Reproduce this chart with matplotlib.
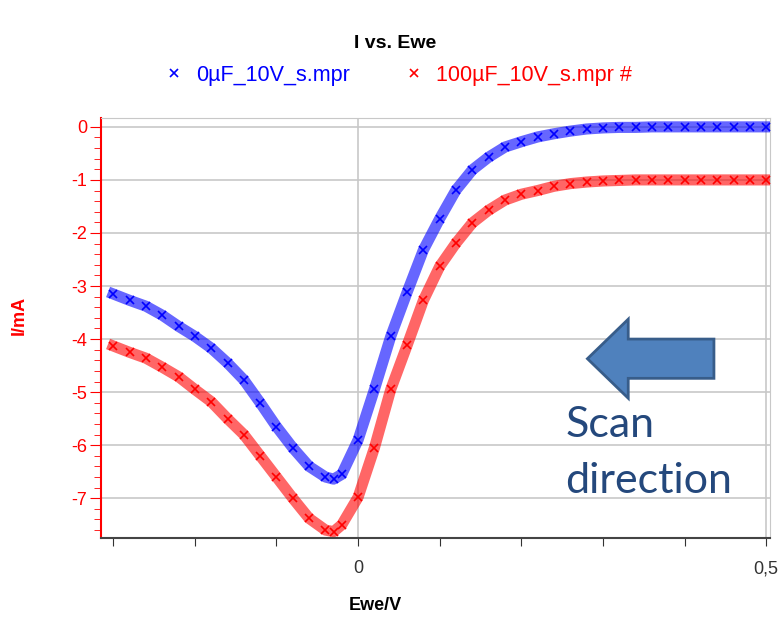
import numpy as np
import matplotlib.pyplot as plt
from matplotlib.patches import FancyArrow

plt.rcParams['font.family'] = ['Liberation Sans', 'DejaVu Sans']
plt.rcParams['axes.unicode_minus'] = False

# potential (V) and current (mA)
ewe = [-0.30, -0.28, -0.26, -0.24, -0.22, -0.20, -0.18, -0.16, -0.14, -0.12,
       -0.10, -0.08, -0.06, -0.04, -0.03, -0.02, 0.00, 0.02, 0.04, 0.06,
       0.08, 0.10, 0.12, 0.14, 0.16, 0.18, 0.20, 0.22, 0.24, 0.26,
       0.28, 0.30, 0.32, 0.34, 0.36, 0.38, 0.40, 0.42, 0.44, 0.46,
       0.48, 0.50]
i_0uF = [-3.15, -3.27, -3.38, -3.55, -3.76, -3.95, -4.17, -4.45, -4.77, -5.20,
         -5.65, -6.05, -6.40, -6.60, -6.64, -6.55, -5.90, -4.95, -3.95, -3.12,
         -2.32, -1.73, -1.19, -0.81, -0.57, -0.38, -0.28, -0.19, -0.13, -0.08,
         -0.04, -0.02, -0.01, -0.01, 0.00, 0.00, 0.00, 0.00, 0.00, 0.00,
         0.00, 0.00]
i_100uF = [-4.13, -4.25, -4.36, -4.53, -4.71, -4.95, -5.18, -5.50, -5.80, -6.20,
           -6.60, -7.00, -7.38, -7.60, -7.63, -7.50, -6.98, -6.05, -4.95, -4.12,
           -3.27, -2.63, -2.19, -1.81, -1.57, -1.38, -1.27, -1.20, -1.12, -1.07,
           -1.04, -1.02, -1.01, -1.00, -1.00, -1.00, -1.00, -1.00, -1.00, -1.00,
           -1.00, -1.00]

fig = plt.figure(figsize=(7.8, 6.17), dpi=100)
ax = fig.add_axes([0.1295, 0.128, 0.858, 0.681])

ax.plot(ewe, i_0uF, '-', color='blue', lw=8, alpha=0.6, zorder=3)
ax.plot(ewe, i_0uF, 'x', color='blue', ms=6, mew=1.2, label='0µF_10V_s.mpr', zorder=4)
ax.plot(ewe, i_100uF, '-', color='red', lw=8, alpha=0.6, zorder=3)
ax.plot(ewe, i_100uF, 'x', color='red', ms=6, mew=1.2, label='100µF_10V_s.mpr #', zorder=4)

ax.set_xlim(-0.315, 0.505)
ax.set_ylim(-7.75, 0.17)

# grid
for yy in range(-7, 1):
    ax.axhline(yy, color='#c8c8c8', lw=1.2, zorder=1)
for xx in [0, 0.5]:
    ax.axvline(xx, color='#c8c8c8', lw=1.2, zorder=1)

xt = np.round(np.arange(-0.3, 0.51, 0.1), 2)
ax.set_xticks(xt)
ax.set_xticklabels(['0' if t == 0 else ('0,5' if t == 0.5 else '') for t in xt])
ax.set_yticks(range(-7, 1))
ax.set_yticks(np.arange(-7.6, 0.1, 0.2), minor=True)
ax.tick_params(axis='x', colors='#333333', labelsize=13, length=6, direction='out', pad=10)
ax.tick_params(axis='y', colors='red', labelsize=13, length=8, direction='out', pad=2)
ax.tick_params(axis='y', which='minor', colors='red', length=5)

ax.spines['left'].set_color('red')
ax.spines['left'].set_linewidth(1.5)
ax.spines['bottom'].set_color('#444444')
ax.spines['bottom'].set_linewidth(1.5)
ax.spines['top'].set_color('#c8c8c8')
ax.spines['right'].set_color('#c8c8c8')

ax.set_xlabel('Ewe/V', fontsize=13, fontweight='bold')
ax.set_ylabel('I/mA', fontsize=13, fontweight='bold', color='red')
ax.xaxis.set_label_coords(0.41, -0.14)
ax.yaxis.set_label_coords(-0.11, 0.53)

fig.text(0.506, 0.93, 'I vs. Ewe', ha='center', va='center', fontsize=14, fontweight='bold')
leg = fig.legend(loc='center', bbox_to_anchor=(0.51, 0.878), ncol=2, frameon=False,
                 fontsize=15.5, handletextpad=0.5, columnspacing=2.5, handlelength=1.0,
                 markerscale=0.85)
for txt, col in zip(leg.get_texts(), ['blue', 'red']):
    txt.set_color(col)

# scan direction annotation
arr = FancyArrow(0.436, -4.37, -0.155, 0, width=0.74, head_width=1.49, head_length=0.05,
                 length_includes_head=True, facecolor='#4f81bd', edgecolor='#385d8a',
                 lw=2, zorder=5)
ax.add_patch(arr)
ax.text(0.254, -5.85, 'Scan', fontsize=31, color='#24487c', family='Lato',
        ha='left', va='baseline', zorder=5)
ax.text(0.254, -6.9, 'direction', fontsize=31, color='#24487c', family='Lato',
        ha='left', va='baseline', zorder=5)

fig.savefig('out.png', dpi=100)
